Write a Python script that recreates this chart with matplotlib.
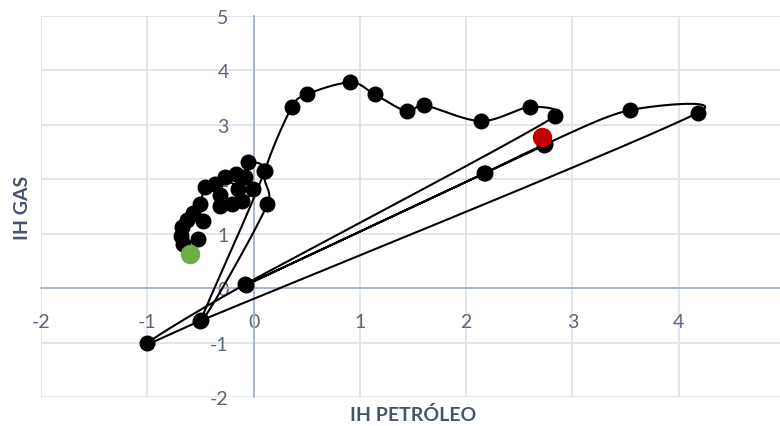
import numpy as np
import matplotlib
matplotlib.use("Agg")
import matplotlib.pyplot as plt

plt.rcParams["axes.unicode_minus"] = False

# Trajectory of the two indices, in time order
ih_petroleo = [-0.60, -0.52, -0.66, -0.68, -0.67, -0.63, -0.48, -0.57, -0.50, -0.46,
               -0.36, -0.32, -0.32, -0.20, -0.15, -0.27, -0.17, -0.11, -0.01, -0.08,
               -0.05, 0.10, -0.49, 0.13, 0.11, 0.36, 0.50, 0.91, 1.14, 1.44,
               1.60, 2.14, 2.60, 2.84, -0.08, -1.00, -0.50, 4.18, 3.54, 2.73,
               2.17, -0.07, 2.18, 2.74, 2.71]
ih_gas = [0.62, 0.90, 0.81, 0.96, 1.12, 1.25, 1.23, 1.38, 1.54, 1.86,
          1.91, 1.71, 1.51, 1.54, 1.82, 2.04, 2.09, 1.60, 1.82, 2.04,
          2.31, 2.15, -0.59, 1.54, 2.16, 3.33, 3.56, 3.78, 3.56, 3.25,
          3.36, 3.07, 3.33, 3.16, 0.07, -1.01, -0.60, 3.22, 3.27, 2.63,
          2.11, 0.06, 2.12, 2.64, 2.77]

x_ticks = [-2, -1, 0, 1, 2, 3, 4, 5]
y_ticks = [-2, -1, 0, 1, 2, 3, 4, 5]

TITLE_COLOR = "#44546A"
TICK_COLOR = "#5A6577"
GRID_COLOR = "#DCE1EA"
AXIS_COLOR = "#A7B2C3"

fig = plt.figure(figsize=(7.8, 4.27), dpi=100)
ax = fig.add_axes([41 / 780, 29 / 427, 744 / 780, 381 / 427])
ax.set_xlim(-2, 5)
ax.set_ylim(-2, 5)


def smooth_path(xs, ys, n=60):
    """Bezier smoothing in display space, control arms capped at half a segment."""
    pts = ax.transData.transform(np.column_stack([xs, ys]))
    out = [pts[0]]
    t = np.linspace(0, 1, n)[1:, None]
    for i in range(len(pts) - 1):
        p0 = pts[i - 1] if i > 0 else pts[i]
        p1, p2 = pts[i], pts[i + 1]
        p3 = pts[i + 2] if i + 2 < len(pts) else pts[i + 1]
        d12 = np.linalg.norm(p2 - p1)
        d02 = np.linalg.norm(p2 - p0)
        d13 = np.linalg.norm(p3 - p1)
        f0 = 1 / 6 if d02 / 6 < d12 / 2 else (d12 / 2 / d02 if d02 > 0 else 0)
        f1 = 1 / 6 if d13 / 6 < d12 / 2 else (d12 / 2 / d13 if d13 > 0 else 0)
        b1 = p1 + f0 * (p2 - p0)
        b2 = p2 - f1 * (p3 - p1)
        seg = ((1 - t) ** 3) * p1 + 3 * ((1 - t) ** 2) * t * b1 \
            + 3 * (1 - t) * (t ** 2) * b2 + (t ** 3) * p2
        out.extend(seg)
    return ax.transData.inverted().transform(np.array(out))


curve = smooth_path(ih_petroleo, ih_gas)
ax.plot(curve[:, 0], curve[:, 1], color="black", lw=1.5, zorder=3,
        solid_capstyle="round")
ax.plot(ih_petroleo[1:-1], ih_gas[1:-1], "o", color="black", ms=10.5, zorder=4)
ax.plot(ih_petroleo[0], ih_gas[0], "o", color="#70AD47", ms=13, zorder=5)
ax.plot(ih_petroleo[-1], ih_gas[-1], "o", color="#C00000", ms=13, zorder=5)

ax.set_xticks(x_ticks)
ax.set_yticks(y_ticks)
ax.grid(True, color=GRID_COLOR, lw=1.2, zorder=0)
ax.set_axisbelow(True)

for side in ["top", "right"]:
    ax.spines[side].set_visible(False)
ax.spines["left"].set_position(("data", 0))
ax.spines["bottom"].set_position(("data", 0))
for side in ["left", "bottom"]:
    ax.spines[side].set_color(AXIS_COLOR)
    ax.spines[side].set_linewidth(1.3)
    ax.spines[side].set_zorder(1)

ax.tick_params(axis="both", length=0, labelsize=14, labelcolor=TICK_COLOR)
ax.tick_params(axis="y", pad=18)
ax.tick_params(axis="x", pad=18)
for lab in ax.get_xticklabels() + ax.get_yticklabels():
    lab.set_fontfamily("Lato")

fig.text(413 / 780, 1 - 415 / 427, "IH PETRÓLEO", ha="center", va="center",
         fontsize=14, fontweight="bold", color=TITLE_COLOR, family="Lato")
fig.text(22 / 780, 1 - 208 / 427, "IH GAS", ha="center", va="center",
         rotation=90, fontsize=14, fontweight="bold", color=TITLE_COLOR,
         family="Lato")

fig.savefig("out.png", dpi=100)
